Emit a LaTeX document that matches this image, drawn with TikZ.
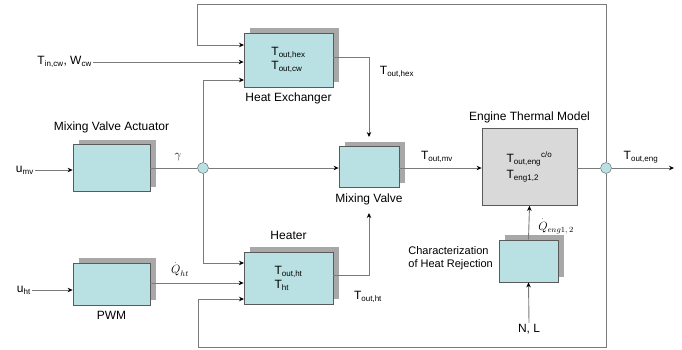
\documentclass[tikz,border=0pt]{standalone}
\usepackage{amsmath}
\usepackage{fontspec}
\setmainfont{Liberation Sans}
\usetikzlibrary{positioning,shadows,arrows.meta}

\definecolor{boxfill}{HTML}{B9E0E3}
\definecolor{boxline}{HTML}{5A5A5A}
\definecolor{shadowgray}{HTML}{A8A8A8}
\definecolor{engfill}{HTML}{D9D9D9}
\definecolor{linegray}{HTML}{7A7A7A}

\tikzset{
  blk/.style={draw=boxline, fill=boxfill, line width=0.8pt, inner sep=2pt,
    align=left, font=\fontsize{12}{14}\selectfont,
    drop shadow={shadow xshift=6pt, shadow yshift=5pt, fill=shadowgray, opacity=1}},
  engblk/.style={draw=boxline, fill=engfill, line width=0.8pt, align=left,
    font=\fontsize{12}{16}\selectfont},
  title/.style={inner sep=1pt, font=\fontsize{12}{14}\selectfont},
  sig/.style={inner sep=1pt, font=\fontsize{12}{14}\selectfont},
  junc/.style={circle, draw=boxline, fill=boxfill, minimum size=11pt, inner sep=0pt},
  wire/.style={draw=linegray, line width=0.9pt}
}

\begin{document}
\begin{tikzpicture}[x=1pt, y=-1pt, >={Stealth[black,length=5pt,width=4.5pt]}]
	\useasboundingbox (0,0) rectangle (682,349);

	% blocks
	\node[blk, minimum width=89pt, minimum height=54pt] (he) at (288.5,60) {T\textsubscript{out,hex}\\T\textsubscript{out,cw}};
	\node[blk, minimum width=77pt, minimum height=47pt] (mva) at (111.5,168) {};
	\node[blk, minimum width=60pt, minimum height=41pt] (mv) at (369,167) {};
	\node[blk, minimum width=89pt, minimum height=52pt] (ht) at (288.5,278) {T\textsubscript{out,ht}\\T\textsubscript{ht}};
	\node[blk, minimum width=77pt, minimum height=42pt] (pwm) at (111.5,284) {};
	\node[engblk, minimum width=95pt, minimum height=77pt] (eng) at (529.5,167) {T\textsubscript{out,eng}\textsuperscript{c/o}\\T\textsubscript{eng1,2}};
	\node[blk, minimum width=59pt, minimum height=42pt] (chr) at (528.5,261) {};

	% block titles
	\node[title, below=4pt of he] (he-t) {Heat Exchanger};
	\node[title, above=10pt of mva] (mva-t) {Mixing Valve Actuator};
	\node[title, below=5pt of mv] (mv-t) {Mixing Valve};
	\node[title, above=11pt of ht] (ht-t) {Heater};
	\node[title, below=5pt of pwm] (pwm-t) {PWM};
	\node[title, above=4pt of eng] (eng-t) {Engine Thermal Model};
	\node[inner sep=1pt, align=left, anchor=east, font=\fontsize{11}{13}\selectfont] (chr-t) at (494,258) {Characterization\\of Heat Rejection};

	% junctions
	\node[junc] (j1) at (203,168) {};
	\node[junc] (jeng) at (606,168) {};

	% signal labels
	\node[sig, anchor=east] (tin) at (93,62) {T\textsubscript{in,cw}, W\textsubscript{cw}};
	\node[sig, anchor=east] (umv) at (35,170) {u\textsubscript{mv}};
	\node[sig, anchor=east] (uht) at (32,290) {u\textsubscript{ht}};
	\node[sig] (nl) at (529,329) {N, L};
	\node[sig] (gam) at (178,157) {$\gamma$};
	\node[sig] (qht) at (180,269) {$\overset{.}{Q}_{ht}$};
	\node[sig] (qeng) at (556,226) {$\overset{.}{Q}_{eng1,\,2}$};
	\node[sig] (thex) at (397,72) {T\textsubscript{out,hex}};
	\node[sig] (tht) at (368,297) {T\textsubscript{out,ht}};
	\node[sig] (tmv) at (437,157) {T\textsubscript{out,mv}};
	\node[sig] (teng) at (641,157) {T\textsubscript{out,eng}};

	% connector points
	\coordinate (he-in1) at (244,45);
	\coordinate (he-in3) at (244,80);
	\coordinate (he-out) at (333,57);
	\coordinate (mv-top) at (369,137);
	\coordinate (ht-in1) at (244,263);
	\coordinate (ht-in3) at (244,299);
	\coordinate (ht-out) at (333,275);
	\coordinate (mv-bot) at (369,213);
	\coordinate (loopT) at (197,4);
	\coordinate (loopB) at (198,347);
	\coordinate (out) at (674,168);

	% connectors
	\draw[wire, ->] (tin.east) -- (tin.east -| he.west);
	\draw[wire, ->] (umv.east) -- (umv.east -| mva.west);
	\draw[wire, ->] (uht.east) -- (uht.east -| pwm.west);
	\draw[wire] (mva.east |- j1) -- (j1);
	\draw[wire, ->] (j1) -- (j1 -| mv.west);
	\draw[wire, ->] (j1) |- (he-in3);
	\draw[wire, ->] (j1) |- (ht-in1);
	\draw[wire, ->] (pwm.east |- 0,283) -- (ht.west |- 0,283);
	\draw[wire, ->] (he-out) -| (mv-top);
	\draw[wire, ->] (ht-out) -| (mv-bot);
	\draw[wire, ->] (mv.east |- j1) -- (eng.west |- j1);
	\draw[wire] (eng.east |- jeng) -- (jeng);
	\draw[wire, ->] (jeng) -- (out);
	\draw[wire, ->] (jeng) |- (loopT) |- (he-in1);
	\draw[wire, ->] (jeng) |- (loopB) |- (ht-in3);
	\draw[wire, ->] (chr.north) -- (eng.south);
	\draw[wire, ->] (nl.north) -- (chr.south);
\end{tikzpicture}
\end{document}
